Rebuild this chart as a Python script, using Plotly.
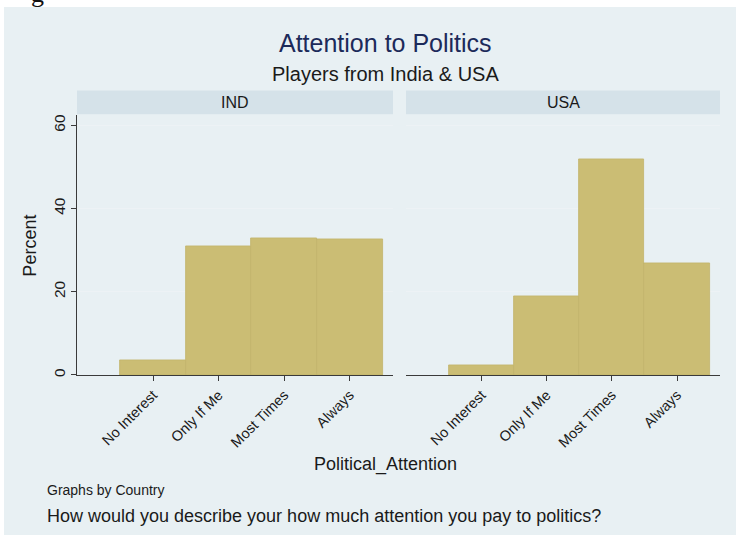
import plotly.graph_objects as go

# Categories of the attention question and percentages per country
categories = ["No Interest", "Only If Me", "Most Times", "Always"]
ind_percent = [3.5, 31.0, 32.8, 32.7]
usa_percent = [2.4, 19.0, 51.8, 26.8]
panels = ["IND", "USA"]
y_ticks = [0, 20, 40, 60]

W, H = 736, 539
FONT = "Liberation Sans, Arial, Helvetica, sans-serif"
BG = "#e8f0f3"
STRIP = "#d5e2e9"
BAR = "#cbbd74"
BAR_EDGE = "#c2b46a"
AXIS = "#3a3a3a"
GRID = "#edf2f5"


def px_x(p):
    return p / W


def px_y(p):
    return 1 - p / H


# panel boxes in pixels: (left, right), shared top/bottom
panel_x = [(77, 393), (406, 720)]
plot_top, plot_bottom = 115, 376
strip_top, strip_bottom = 90, 114

fig = go.Figure()

x_idx = list(range(len(categories)))
for i, vals in enumerate([ind_percent, usa_percent]):
    suffix = "" if i == 0 else str(i + 1)
    fig.add_trace(go.Bar(
        x=x_idx, y=vals, width=1.0,
        marker=dict(color=BAR, line=dict(color=BAR_EDGE, width=0.8)),
        xaxis="x" + suffix, yaxis="y" + suffix,
        showlegend=False, hoverinfo="skip",
    ))

common_x = dict(
    range=[-1.16, 3.66], tickvals=x_idx, ticktext=categories,
    tickangle=-45, ticks="outside", ticklen=5, tickcolor=AXIS, tickwidth=1,
    showline=True, linecolor=AXIS, linewidth=1, showgrid=False, zeroline=False,
    tickfont=dict(family=FONT, size=14.5, color="#1a1a1a"), fixedrange=True,
)
ydom = [px_y(plot_bottom), px_y(plot_top)]

layout = dict(
    width=W, height=H,
    margin=dict(l=0, r=0, t=0, b=0),
    paper_bgcolor="white", plot_bgcolor="white",
    bargap=0,
    xaxis=dict(domain=[px_x(panel_x[0][0]), px_x(panel_x[0][1])], anchor="y", **common_x),
    xaxis2=dict(domain=[px_x(panel_x[1][0]), px_x(panel_x[1][1])], anchor="y2", **common_x),
    yaxis=dict(
        domain=ydom, anchor="x", range=[0, 62.4], tickvals=y_ticks,
        tickangle=-90, ticks="outside", ticklen=5, tickcolor=AXIS,
        showline=True, linecolor=AXIS, linewidth=1,
        showgrid=True, gridcolor=GRID, gridwidth=1, zeroline=False,
        tickfont=dict(family=FONT, size=15.5, color="#1a1a1a"), fixedrange=True,
    ),
    yaxis2=dict(
        domain=ydom, anchor="x2", range=[0, 62.4], tickvals=y_ticks,
        showticklabels=False, ticks="", showline=False,
        showgrid=True, gridcolor=GRID, gridwidth=1, zeroline=False, fixedrange=True,
    ),
)

shapes = [
    # graph region background
    dict(type="rect", xref="paper", yref="paper", x0=px_x(4), x1=1.0,
         y0=px_y(537), y1=px_y(6), fillcolor=BG, line=dict(width=0), layer="below"),
]
annotations = []
for (x0, x1), name in zip(panel_x, panels):
    shapes.append(dict(type="rect", xref="paper", yref="paper",
                       x0=px_x(x0), x1=px_x(x1), y0=px_y(strip_bottom), y1=px_y(strip_top),
                       fillcolor=STRIP, line=dict(width=0), layer="below"))
    annotations.append(dict(text=name, xref="paper", yref="paper",
                            x=px_x((x0 + x1) / 2), y=px_y((strip_top + strip_bottom) / 2),
                            xanchor="center", yanchor="middle", showarrow=False,
                            font=dict(family=FONT, size=16, color="#1a1a1a")))


def note(text, x, y, size, color="#1a1a1a", xanchor="center", angle=0, family=FONT):
    annotations.append(dict(text=text, xref="paper", yref="paper", x=px_x(x), y=px_y(y),
                            xanchor=xanchor, yanchor="middle", showarrow=False,
                            textangle=angle, font=dict(family=family, size=size, color=color)))


note("Attention to Politics", 385, 42, 25, color="#1c2a5a")
note("Players from India & USA", 385, 73, 20)
note("Percent", 30, 246, 18, angle=-90)
note("Political_Attention", 385, 466, 18)
note("Graphs by Country", 45, 492, 14, xanchor="left")
note("How would you describe your how much attention you pay to politics?", 45, 518, 18,
     xanchor="left")

# descender of a page glyph peeking in at the top edge
annotations.append(dict(text="g", xref="paper", yref="paper", x=px_x(37), y=px_y(9),
                        xanchor="center", yanchor="bottom", showarrow=False,
                        font=dict(family="Liberation Serif, serif", size=26, color="#111111")))

layout["shapes"] = shapes
layout["annotations"] = annotations
fig.update_layout(**layout)

fig.write_html("out.html")
